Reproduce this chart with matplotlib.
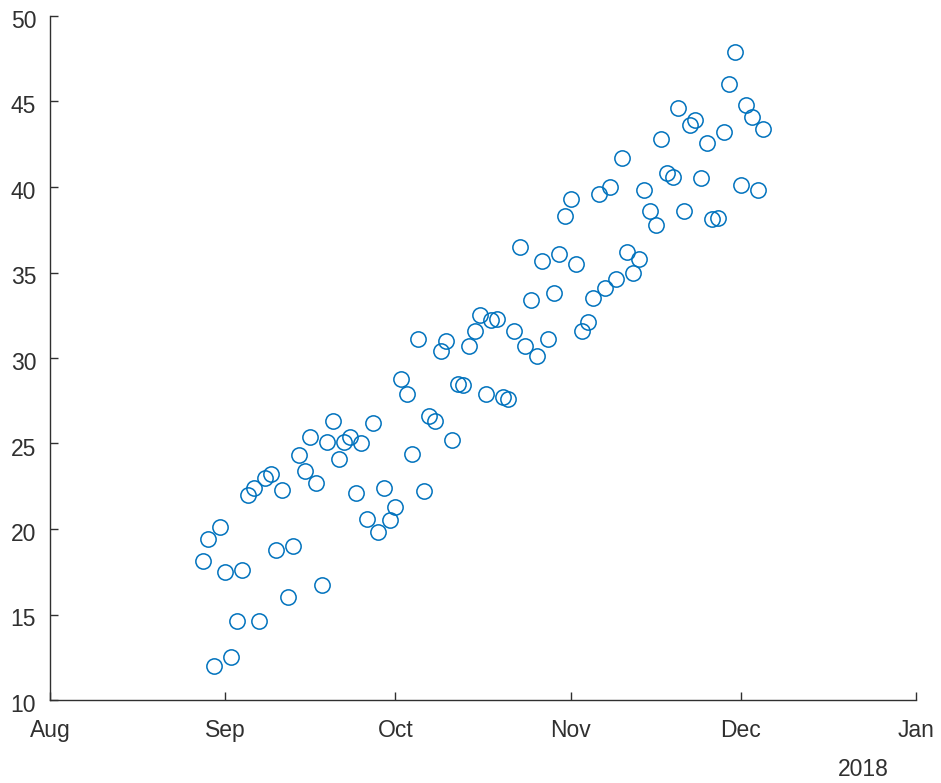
import matplotlib
matplotlib.use('Agg')
import matplotlib.pyplot as plt
import matplotlib.transforms as mtransforms
import numpy as np
import pandas as pd

# daily observations, 28 Aug 2018 .. 5 Dec 2018
start_date = '2018-08-28'
values = [
    18.1, 19.4, 12.0, 20.1, 17.5, 12.5, 14.6, 17.6, 22.0, 22.4,
    14.6, 23.0, 23.2, 18.8, 22.3, 16.0, 19.0, 24.3, 23.4, 25.4,
    22.7, 16.7, 25.1, 26.3, 24.1, 25.1, 25.4, 22.1, 25.0, 20.6,
    26.2, 19.8, 22.4, 20.5, 21.3, 28.8, 27.9, 24.4, 31.1, 22.2,
    26.6, 26.3, 30.4, 31.0, 25.2, 28.5, 28.4, 30.7, 31.6, 32.5,
    27.9, 32.2, 32.3, 27.7, 27.6, 31.6, 36.5, 30.7, 33.4, 30.1,
    35.7, 31.1, 33.8, 36.1, 38.3, 39.3, 35.5, 31.6, 32.1, 33.5,
    39.6, 34.1, 40.0, 34.6, 41.7, 36.2, 35.0, 35.8, 39.8, 38.6,
    37.8, 42.8, 40.8, 40.6, 44.6, 38.6, 43.6, 43.9, 40.5, 42.6,
    38.1, 38.2, 43.2, 46.0, 47.9, 40.1, 44.8, 44.1, 39.8, 43.4,
]
dates = pd.date_range(start_date, periods=len(values), freq='D')

x_ticks = pd.date_range('2018-08-01', '2019-01-01', freq='MS')
x_tick_labels = ['Aug', 'Sep', 'Oct', 'Nov', 'Dec', 'Jan']
y_ticks = [10, 15, 20, 25, 30, 35, 40, 45, 50]

plt.rcParams['font.family'] = ['Liberation Sans', 'DejaVu Sans']

fig = plt.figure(figsize=(9.41, 7.83), dpi=100)
ax = fig.add_axes([50 / 941, 1 - 700 / 783, 866 / 941, 684 / 783])

ax.plot(dates, values, linestyle='none', marker='o', markersize=11,
        markerfacecolor='none', markeredgecolor='#0072BD', markeredgewidth=1.1)

ax.set_xlim(x_ticks[0], x_ticks[-1])
ax.set_ylim(10, 50)
ax.set_xticks(x_ticks)
ax.set_xticklabels(x_tick_labels)
ax.set_yticks(y_ticks)

axis_color = '#303030'
for side in ['top', 'right']:
    ax.spines[side].set_visible(False)
for side in ['left', 'bottom']:
    ax.spines[side].set_color(axis_color)
    ax.spines[side].set_linewidth(1.0)

ax.tick_params(direction='in', length=5.8, width=1.0, colors=axis_color,
               labelsize=16.5)
ax.tick_params(axis='y', pad=10)
ax.tick_params(axis='x', pad=14)

# MATLAB puts the y labels a touch below their ticks
shift = mtransforms.ScaledTranslation(0, -3 / 100, fig.dpi_scale_trans)
for lab in ax.get_yticklabels():
    lab.set_transform(lab.get_transform() + shift)

fig.text(863 / 941, 1 - 769 / 783, '2018', ha='center', va='center',
         fontsize=16.5, color=axis_color)

fig.savefig('out.png', dpi=100)
